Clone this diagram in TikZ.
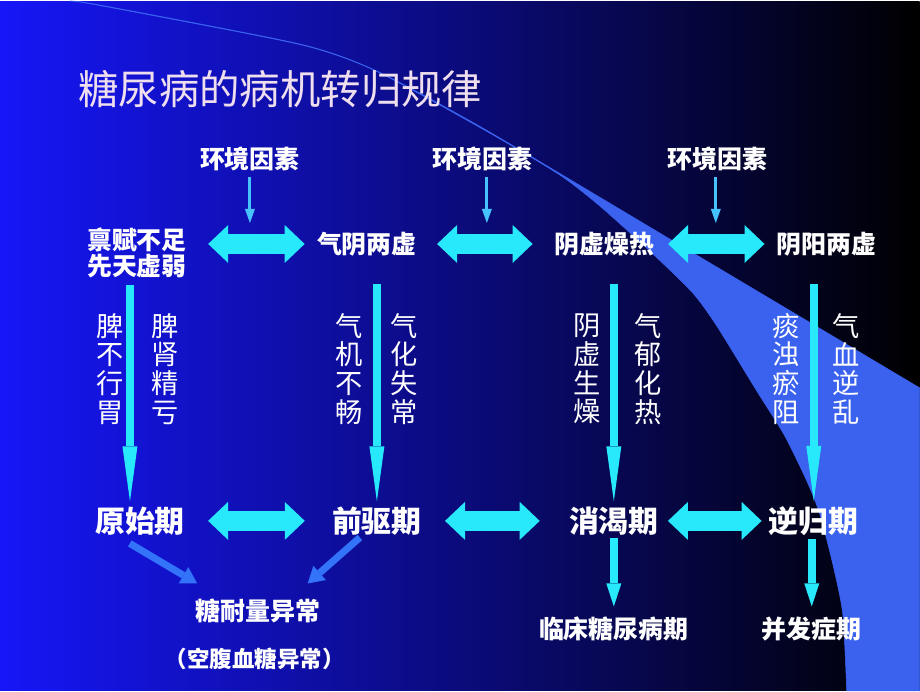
\documentclass[tikz,border=0pt]{standalone}
\usepackage{fontspec}
\setmainfont{Noto Sans CJK SC}
\usetikzlibrary{arrows.meta,calc,positioning}
\definecolor{bgblue}{RGB}{22,22,248}
\definecolor{midblue}{RGB}{4,4,190}
\definecolor{wave}{RGB}{58,98,238}
\definecolor{arrowcyan}{RGB}{40,232,252}
\definecolor{thincyan}{RGB}{70,195,255}
\definecolor{diagblue}{RGB}{50,115,250}
\definecolor{titlepink}{RGB}{238,222,238}
\tikzset{
factor/.style={
  text=white,
  font=\bfseries\fontsize{14.2}{16}\selectfont,
  inner sep=0pt},
state/.style={
  text=white,
  align=center,
  font=\bfseries\fontsize{14.2}{14.4}\selectfont,
  inner sep=0pt},
stage/.style={
  text=white,
  font=\bfseries\fontsize{17}{18}\selectfont,
  inner sep=0pt},
vtext/.style={
  text=white,
  align=center,
  font=\fontsize{15.5}{16.4}\selectfont,
  inner sep=0pt},
result/.style={
  text=white,
  font=\bfseries\fontsize{14.2}{16}\selectfont,
  inner sep=0pt},
bigline/.style={draw=arrowcyan, line width=0.4cm,
  {Triangle[width=0.76cm,length=0.4cm,line width=0pt]}-{Triangle[width=0.76cm,length=0.4cm,line width=0pt]}},
thinline/.style={draw=thincyan, line width=0.06cm, -{Triangle[width=0.2cm,length=0.28cm,line width=0pt]}},
downline/.style={draw=arrowcyan, line width=0.16cm, -{Triangle[width=0.3cm,length=1.1cm,line width=0pt]}},
shortline/.style={draw=arrowcyan, line width=0.16cm, -{Triangle[width=0.3cm,length=0.46cm,line width=0pt]}},
diagline/.style={draw=diagblue, line width=0.14cm, -{Triangle[width=0.38cm,length=0.32cm,line width=0pt]}}
}
\begin{document}
\begin{tikzpicture}[x=0.02cm, y=-0.02cm]
    \shade[left color=bgblue, middle color=midblue, right color=black] (0,0) rectangle (920,690);
    \filldraw[wave, line width=0.3pt] plot[smooth, tension=0.4] coordinates {(70,0) (100,4) (300,43) (377,70) (488,130) (700,256) (920,387)}
      -- (920,690) -- (847,690)
      -- plot[smooth, tension=0.4] coordinates {(847,690) (843,613) (833,563) (820,513) (807,480) (785,435) (757,390) (717,325) (693,292) (650,250) (600,205) (560,174) (488,131) (377,70.5) (300,43.5) (100,4.5) (70,0)}
      -- cycle;
    \node [text=titlepink, font=\fontsize{23}{24}\selectfont, inner sep=0pt, anchor=west] (title) at (78,88) {糖尿病的病机转归规律};
    \node [factor] (e1) at (250,158) {环境因素};
    \node [factor] (e2) at (483,158) {环境因素};
    \node [factor] (e3) at (718,158) {环境因素};
    \node [state] (b1) at (137,252) {禀赋不足\\先天虚弱};
    \node [state] (q1) at (367,243) {气阴两虚};
    \node [state] (q2) at (605,243) {阴虚燥热};
    \node [state] (q3) at (827,243) {阴阳两虚};
    \node [stage] (s1) at (140,520) {原始期};
    \node [stage] (s2) at (377,520) {前驱期};
    \node [stage] (s3) at (614,520) {消渴期};
    \node [stage] (s4) at (814,520) {逆归期};
    \node [result] (r1) at (258,610) {糖耐量异常};
    \node [result, font=\bfseries\fontsize{12.8}{14}\selectfont] (r2) at (255,658) {（空腹血糖异常）};
    \node [result] (r3) at (614,628) {临床糖尿病期};
    \node [result] (r4) at (812,628) {并发症期};
    \node [vtext] (v1) at (110,368) {脾\\不\\行\\胃};
    \node [vtext] (v2) at (165,368) {脾\\肾\\精\\亏};
    \node [vtext] (v3) at (349,368) {气\\机\\不\\畅};
    \node [vtext] (v4) at (404,368) {气\\化\\失\\常};
    \node [vtext] (v5) at (587,368) {阴\\虚\\生\\燥};
    \node [vtext] (v6) at (648,368) {气\\郁\\化\\热};
    \node [vtext] (v7) at (786,368) {痰\\浊\\瘀\\阻};
    \node [vtext] (v8) at (846,368) {气\\血\\逆\\乱};
    \coordinate (m1) at (250,222);
    \coordinate (m2) at (487,222);
    \coordinate (m3) at (716,222);
    \path [thinline, shorten <=0.12cm] (e1) -- (m1);
    \path [thinline, shorten <=0.12cm] (e2.south -| m2) -- (m2);
    \path [thinline, shorten <=0.12cm] (e3.south -| m3) -- (m3);
    \path [bigline, shorten <=0.42cm, shorten >=0.24cm] (b1.east |- q1.west) -- (q1.west);
    \path [bigline, shorten <=0.4cm, shorten >=0.44cm] (q1.east) -- (q2.west);
    \path [bigline, shorten <=0.26cm, shorten >=0.24cm] (q2.east) -- (q3.west);
    \path [bigline, shorten <=0.46cm, shorten >=0.54cm] (s1.east) -- (s2.west);
    \path [bigline, shorten <=0.46cm, shorten >=0.58cm] (s2.east) -- (s3.west);
    \path [bigline, shorten <=0.18cm, shorten >=0.14cm] (s3.east) -- (s4.west);
    \path [downline, shorten <=0.14cm, shorten >=0.1cm] ($(b1.south -| s1.north)+(-10,0)$) -- ($(s1.north)+(-10,0)$);
    \path [downline, shorten <=0.56cm, shorten >=0.1cm] (q1.south -| s2.north) -- (s2.north);
    \path [downline, shorten <=0.56cm, shorten >=0.1cm] (q2.south -| s3.north) -- (s3.north);
    \path [downline, shorten <=0.56cm, shorten >=0.1cm] (q3.south -| s4.north) -- (s4.north);
    \path [shortline, shorten <=0.06cm, shorten >=0.2cm] (s3) -- (r3);
    \path [shortline, shorten <=0.06cm, shorten >=0.2cm] (s4.south -| r4.north) -- (r4.north);
    \path [diagline] ($(s1.south west)+(35,8)$) -- ($(r1.north west)+(2,-15)$);
    \path [diagline] ($(s2.south)+(-17,2)$) -- ($(r1.north east)+(-13,-15)$);
\end{tikzpicture}
\end{document}
